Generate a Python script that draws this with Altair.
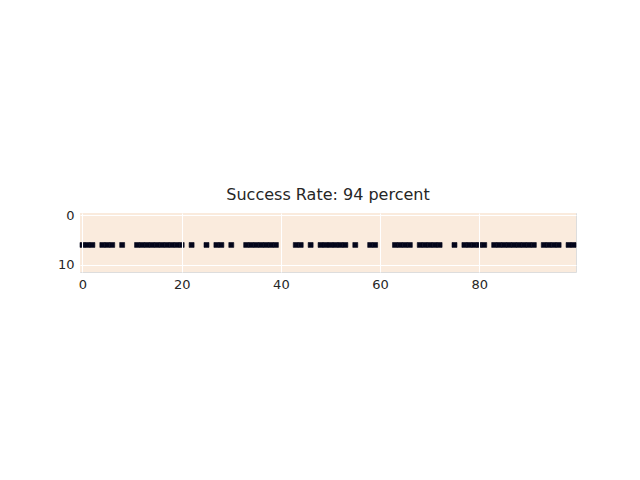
import pandas as pd
import altair as alt

# outcome per trial (row 6 of the 12 x 100 grid), 1 = dark cell
n_rows = 12
n_cols = 100
hit_row = 6
dark_cols = ([0, 1, 2, 4, 5, 6, 8] + list(range(11, 21)) + [22, 25, 27, 28, 30]
             + list(range(33, 40)) + [43, 44, 46] + list(range(48, 54)) + [55, 58, 59]
             + list(range(63, 67)) + list(range(68, 73)) + [75] + list(range(77, 82))
             + list(range(83, 92)) + list(range(93, 97)) + [98, 99])
x_ticks = [0, 20, 40, 60, 80]
y_ticks = [0, 10]

df = pd.DataFrame({"col": dark_cols})
df["x0"] = df["col"] - 0.5
df["x1"] = df["col"] + 0.5
df["y0"] = hit_row - 0.5
df["y1"] = hit_row + 0.5

bg = pd.DataFrame({"x0": [-0.5], "x1": [n_cols - 0.5], "y0": [-0.5], "y1": [n_rows - 0.5]})

xs = alt.Scale(domain=[-0.5, n_cols - 0.5], nice=False, zero=False)
ys = alt.Scale(domain=[n_rows - 0.5, -0.5], nice=False, zero=False)
ax_style = dict(grid=True, gridColor="white", gridWidth=1.1, ticks=False, domain=False,
                labelFontSize=13, labelColor="#262626", labelFont="DejaVu Sans",
                labelPadding=6, title=None, zindex=1)

enc = dict(
    x=alt.X("x0:Q", scale=xs, axis=alt.Axis(values=x_ticks, **ax_style)),
    x2="x1",
    y=alt.Y("y0:Q", scale=ys, axis=alt.Axis(values=y_ticks, **ax_style)),
    y2="y1",
)

back = alt.Chart(bg).mark_rect(color="#faebdd").encode(**enc)
cells = alt.Chart(df).mark_rect(color="#03051a", stroke="#03051a", strokeWidth=0.6).encode(**enc)

chart = (back + cells).properties(
    width=496, height=59,
    title=alt.TitleParams("Success Rate: 94 percent", fontSize=16, fontWeight="normal",
                          font="DejaVu Sans", color="#262626", offset=6),
    autosize=alt.AutoSizeParams(type="none"),
    padding={"left": 72, "top": 205, "right": 56, "bottom": 200},
).configure_view(stroke=None).configure(background="white")

chart.save("out.html", embed_options={"renderer": "svg", "actions": False})
